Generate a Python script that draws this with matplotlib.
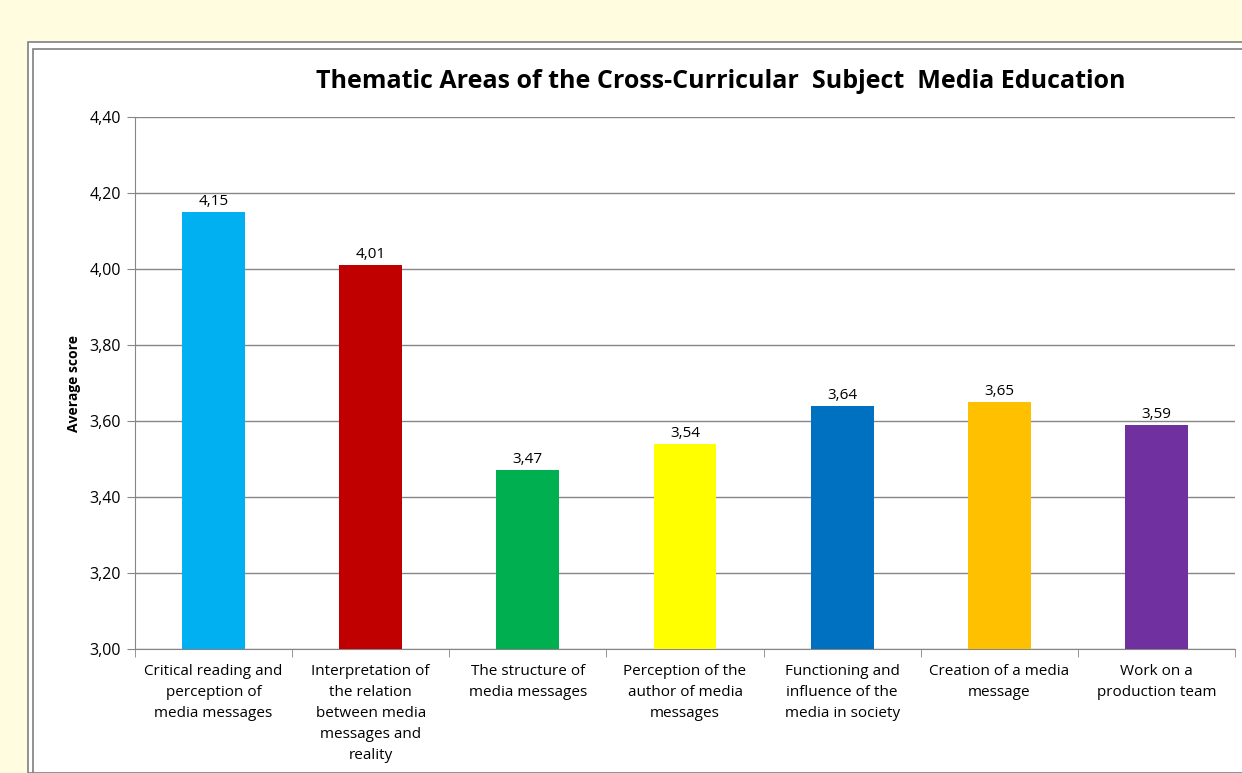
import matplotlib.pyplot as plt
from matplotlib.patches import Rectangle
import numpy as np

plt.rcParams['font.family'] = ['Open Sans', 'DejaVu Sans']

categories = [
    "Critical reading and\nperception of\nmedia messages",
    "Interpretation of\nthe relation\nbetween media\nmessages and\nreality",
    "The structure of\nmedia messages",
    "Perception of the\nauthor of media\nmessages",
    "Functioning and\ninfluence of the\nmedia in society",
    "Creation of a media\nmessage",
    "Work on a\nproduction team",
]
scores = [4.15, 4.01, 3.47, 3.54, 3.64, 3.65, 3.59]
bar_colors = ["#00B0F0", "#C00000", "#00B050", "#FFFF00", "#0070C0", "#FFC000", "#7030A0"]
yticks = [3.00, 3.20, 3.40, 3.60, 3.80, 4.00, 4.20, 4.40]

W, H = 1242, 773
fig = plt.figure(figsize=(W / 100, H / 100), dpi=100)
fig.patch.set_facecolor("#FFFCDF")

# white chart area with double border (behind the axes)
fig.patches.append(Rectangle((28 / W, 0), 1.0, (773 - 42) / H, transform=fig.transFigure,
                             facecolor="white", edgecolor="#7F7F7F", lw=1.2, zorder=-2))
fig.patches.append(Rectangle((33 / W, -0.01), 1.0, (773 - 49) / H + 0.01, transform=fig.transFigure,
                             facecolor="none", edgecolor="#7F7F7F", lw=1.2, zorder=-1))

ax = fig.add_axes([135 / W, (773 - 649) / H, (1235 - 135) / W, (649 - 117) / H])
ax.set_facecolor("white")

x = np.arange(len(categories))
ax.bar(x, scores, width=0.4, color=bar_colors, zorder=3)
for xi, v in zip(x, scores):
    ax.text(xi, v + 0.008, f"{v:.2f}".replace(".", ","), ha="center", va="bottom", fontsize=11)

ax.set_xlim(-0.5, len(categories) - 0.5)
ax.set_ylim(3.0, 4.4)
ax.set_yticks(yticks)
ax.set_yticklabels([f"{t:.2f}".replace(".", ",") for t in yticks], fontsize=11.5)
ax.yaxis.grid(True, color="#868686", lw=1.0, zorder=0)
ax.set_axisbelow(True)

ax.set_xticks(x)
ax.set_xticklabels(categories, fontsize=11, linespacing=1.55)
ax.tick_params(axis="x", length=0, pad=11)
ax.set_xticks(np.arange(len(categories) + 1) - 0.5, minor=True)
ax.tick_params(axis="x", which="minor", length=6, color="#868686", direction="out")
ax.tick_params(axis="y", length=6, color="#868686", direction="out", pad=4)

for s in ["top", "right"]:
    ax.spines[s].set_visible(False)
ax.spines["left"].set_color("#868686")
ax.spines["bottom"].set_color("#868686")

ax.set_ylabel("Average score", fontsize=10, fontweight="bold", labelpad=6)

fig.text(721 / W, 1 - 82 / H, "Thematic Areas of the Cross-Curricular  Subject  Media Education",
         ha="center", va="center", fontsize=18, fontweight="bold")

fig.savefig("out.png", dpi=100, facecolor=fig.get_facecolor())
